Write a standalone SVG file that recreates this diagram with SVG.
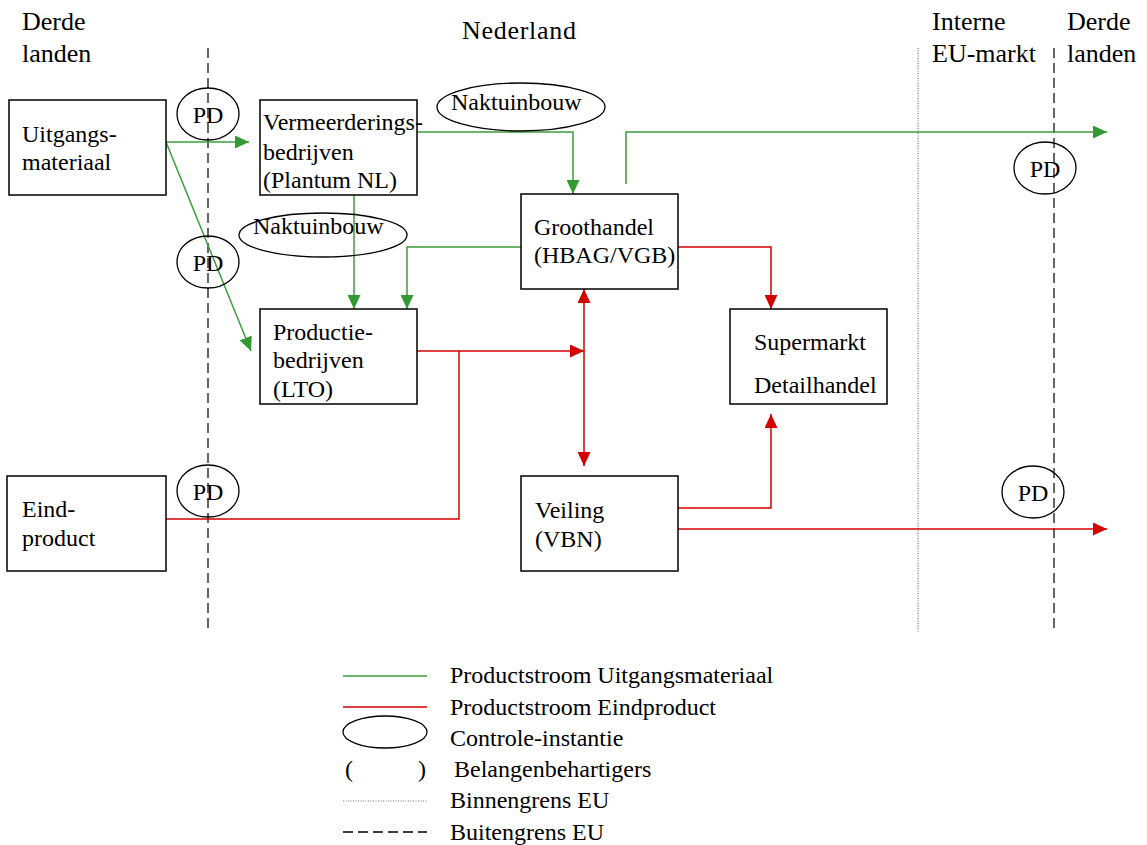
<svg xmlns="http://www.w3.org/2000/svg" width="1147" height="845" viewBox="0 0 1147 845">
<style>
text{fill:#000;font-size:24px}
.hdr{font-size:26px}
.box{fill:#fff;stroke:#000;stroke-width:1.5}
.ell{fill:none;stroke:#000;stroke-width:1.3}
.g{fill:none;stroke:#3c9e3c;stroke-width:1.5}
.r{fill:none;stroke:#d40000;stroke-width:1.5}
.mid{text-anchor:middle}
</style>
<defs>
<marker id="ag" markerUnits="userSpaceOnUse" markerWidth="14" markerHeight="13" refX="14" refY="6.5" orient="auto-start-reverse"><path d="M0,0 L14,6.5 L0,13 z" fill="#339933"/></marker>
<marker id="ar" markerUnits="userSpaceOnUse" markerWidth="14" markerHeight="13" refX="14" refY="6.5" orient="auto-start-reverse"><path d="M0,0 L14,6.5 L0,13 z" fill="#d40000"/></marker>
</defs>
<rect width="1147" height="845" fill="#fff"/>

<g id="borders">
<line x1="208" y1="48" x2="208" y2="633" stroke="#000" stroke-width="1.2" stroke-dasharray="10,5"/>
<line x1="918" y1="48" x2="918" y2="633" stroke="#777" stroke-width="1.2" stroke-dasharray="1,1.5"/>
<line x1="1054" y1="48" x2="1054" y2="633" stroke="#000" stroke-width="1.2" stroke-dasharray="10,5"/>
</g>

<g font-family="Liberation Serif, serif">
<g id="headers">
<text class="hdr" x="22" y="30">Derde</text>
<text class="hdr" x="22" y="62">landen</text>
<text class="hdr" x="462" y="39" textLength="114">Nederland</text>
<text class="hdr" x="932" y="30">Interne</text>
<text class="hdr" x="932" y="62">EU-markt</text>
<text class="hdr" x="1067" y="30">Derde</text>
<text class="hdr" x="1067" y="62">landen</text>
</g>

<g id="connectors">
<line class="g" x1="166" y1="142" x2="249" y2="142" marker-end="url(#ag)"/>
<line class="g" x1="166" y1="142" x2="251" y2="351" marker-end="url(#ag)"/>
<polyline class="g" points="417,132 573,132 573,194" marker-end="url(#ag)"/>
<line class="g" x1="354" y1="195" x2="354" y2="309" marker-end="url(#ag)"/>
<polyline class="g" points="521,247 407,247 407,309" marker-end="url(#ag)"/>
<polyline class="g" points="626,184 626,132 1107,132" marker-end="url(#ag)"/>
<polyline class="r" points="678,247 771,247 771,309" marker-end="url(#ar)"/>
<line class="r" x1="417" y1="351" x2="584" y2="351" marker-end="url(#ar)"/>
<line class="r" x1="584" y1="289" x2="584" y2="466" marker-start="url(#ar)" marker-end="url(#ar)"/>
<polyline class="r" points="166,519 459,519 459,351"/>
<polyline class="r" points="678,508 771,508 771,414" marker-end="url(#ar)"/>
<line class="r" x1="678" y1="529" x2="1107" y2="529" marker-end="url(#ar)"/>
</g>

<g id="uitgangsmateriaal">
<rect class="box" x="9" y="100" width="157" height="95"/>
<text x="22" y="142">Uitgangs-</text>
<text x="22" y="170">materiaal</text>
</g>
<g id="vermeerderingsbedrijven">
<rect class="box" x="260" y="100" width="157" height="95"/>
<text x="263" y="130">Vermeerderings-</text>
<text x="263" y="160">bedrijven</text>
<text x="263" y="188">(Plantum NL)</text>
</g>
<g id="groothandel">
<rect class="box" x="521" y="194" width="157" height="95"/>
<text x="534" y="235">Groothandel</text>
<text x="534" y="263">(HBAG/VGB)</text>
</g>
<g id="productiebedrijven">
<rect class="box" x="260" y="309" width="157" height="95"/>
<text x="273" y="340">Productie-</text>
<text x="273" y="368">bedrijven</text>
<text x="273" y="397">(LTO)</text>
</g>
<g id="supermarkt">
<rect class="box" x="730" y="309" width="157" height="95"/>
<text x="754" y="350">Supermarkt</text>
<text x="754" y="393">Detailhandel</text>
</g>
<g id="eindproduct">
<rect class="box" x="7" y="476" width="159" height="95"/>
<text x="22" y="517">Eind-</text>
<text x="22" y="546">product</text>
</g>
<g id="veiling">
<rect class="box" x="521" y="476" width="157" height="95"/>
<text x="535" y="518">Veiling</text>
<text x="535" y="547">(VBN)</text>
</g>

<g id="pd1"><ellipse class="ell" cx="208" cy="114" rx="31" ry="26"/><text class="mid" x="208" y="123">PD</text></g>
<g id="pd2"><ellipse class="ell" cx="208" cy="262" rx="31" ry="26"/><text class="mid" x="208" y="271">PD</text></g>
<g id="pd3"><ellipse class="ell" cx="208" cy="491" rx="31" ry="26"/><text class="mid" x="208" y="500">PD</text></g>
<g id="pd4"><ellipse class="ell" cx="1045" cy="168" rx="31" ry="26"/><text class="mid" x="1045" y="177">PD</text></g>
<g id="pd5"><ellipse class="ell" cx="1033" cy="492" rx="31" ry="26"/><text class="mid" x="1033" y="501">PD</text></g>
<g id="naktuinbouw1"><ellipse class="ell" cx="521" cy="107" rx="84" ry="24"/><text x="451" y="110">Naktuinbouw</text></g>
<g id="naktuinbouw2"><ellipse class="ell" cx="323" cy="235" rx="84" ry="22"/><text x="253" y="234">Naktuinbouw</text></g>

<g id="legend">
<line x1="343" y1="676" x2="427" y2="676" stroke="#3c9e3c" stroke-width="1.5"/>
<text x="450" y="683">Productstroom Uitgangsmateriaal</text>
<line x1="343" y1="707" x2="427" y2="707" stroke="#e04040" stroke-width="2"/>
<text x="450" y="715">Productstroom Eindproduct</text>
<ellipse class="ell" cx="385" cy="732" rx="42" ry="16"/>
<text x="450" y="746">Controle-instantie</text>
<text x="345" y="777">(</text>
<text x="418" y="777">)</text>
<text x="454" y="777">Belangenbehartigers</text>
<line x1="343" y1="801" x2="427" y2="801" stroke="#777" stroke-width="1.2" stroke-dasharray="1,1.5"/>
<text x="450" y="808">Binnengrens EU</text>
<line x1="343" y1="832" x2="427" y2="832" stroke="#000" stroke-width="1.3" stroke-dasharray="10,5"/>
<text x="450" y="840">Buitengrens EU</text>
</g>
</g>
</svg>
